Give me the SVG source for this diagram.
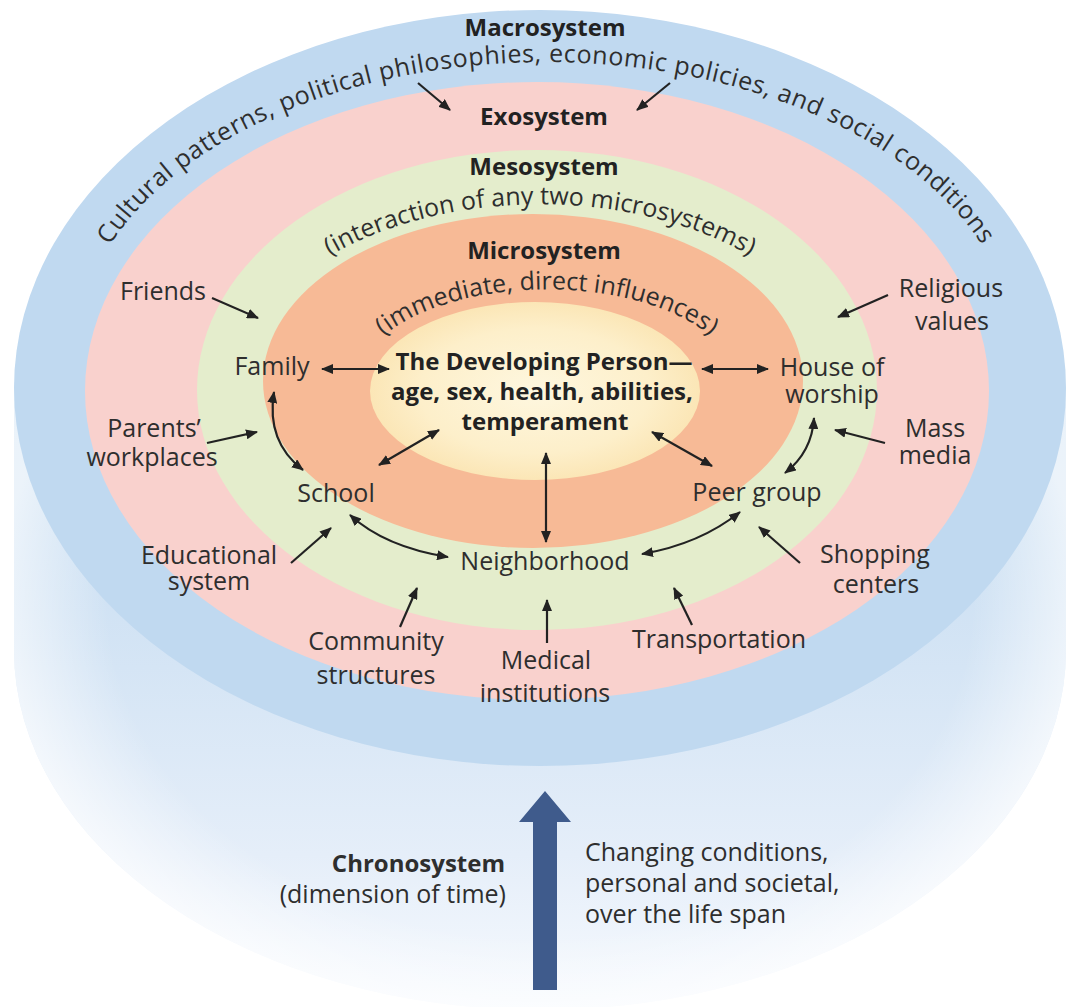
<svg xmlns="http://www.w3.org/2000/svg" width="1069" height="1007" viewBox="0 0 1069 1007">
  <defs>
    <style>
      .lbl { font-family: "Open Sans", "DejaVu Sans", sans-serif; font-size: 25px; fill: #2e2e2e; }
      .mid { text-anchor: middle; }
      .end { text-anchor: end; }
      .hd { font-family: "Open Sans", "DejaVu Sans", sans-serif; font-size: 24px; font-weight: bold; fill: #222; text-anchor: middle; }
      .arc { font-family: "Open Sans", "DejaVu Sans", sans-serif; font-size: 24px; fill: #2e2e2e; }
      .con { fill: none; stroke: #222; stroke-width: 2.2; }
      .one { marker-end: url(#head); }
      .two { marker-start: url(#head); marker-end: url(#head); }
    </style>
    <marker id="head" viewBox="0 0 12 10" refX="11" refY="5" markerWidth="12" markerHeight="10" markerUnits="userSpaceOnUse" orient="auto-start-reverse">
      <path d="M0,0 L12,5 L0,10 Z" fill="#222"/>
    </marker>
    <linearGradient id="bodyFill" x1="0" y1="388" x2="0" y2="1010" gradientUnits="userSpaceOnUse">
      <stop offset="0" stop-color="#c2daf0"/>
      <stop offset="0.45" stop-color="#d5e5f5"/>
      <stop offset="0.75" stop-color="#e5eef9"/>
      <stop offset="1" stop-color="#f7fafe"/>
    </linearGradient>
    <radialGradient id="rim" cx="540" cy="600" r="540" gradientUnits="userSpaceOnUse" gradientTransform="translate(540 600) scale(1 0.78) translate(-540 -600)">
      <stop offset="0" stop-color="#fff" stop-opacity="0"/>
      <stop offset="0.8" stop-color="#fff" stop-opacity="0"/>
      <stop offset="1" stop-color="#fff" stop-opacity="0.65"/>
    </radialGradient>
    <radialGradient id="core" cx="535" cy="391" r="165" gradientUnits="userSpaceOnUse" gradientTransform="translate(535 391) scale(1 0.54) translate(-535 -391)">
      <stop offset="0" stop-color="#fef7df"/>
      <stop offset="0.7" stop-color="#fdefca"/>
      <stop offset="1" stop-color="#fbe6b6"/>
    </radialGradient>
    <path id="macroArc" d="M100,262 A470 292 0 0 1 992,262"/>
    <path id="mesoArc" d="M320,262 A300 180 0 0 1 760,262"/>
    <path id="microArc" d="M378,341 A190 95 0 0 1 716,341"/>
  </defs>

  <rect width="1069" height="1007" fill="#ffffff"/>

  <!-- cylinder body (time axis) -->
  <g id="cylinder">
    <path d="M14,388 L14,650 A526 360 0 0 0 1066,650 L1066,388 Z" fill="url(#bodyFill)"/>
    <path d="M14,388 L14,650 A526 360 0 0 0 1066,650 L1066,388 Z" fill="url(#rim)"/>
  </g>

  <!-- nested system rings on the top face -->
  <g id="macrosystem">
    <ellipse cx="540" cy="388" rx="526" ry="378" fill="#c0d9f0"/>
  </g>
  <g id="exosystem">
    <ellipse cx="537" cy="391" rx="452" ry="309" fill="#f9d1cd"/>
  </g>
  <g id="mesosystem">
    <ellipse cx="537" cy="390" rx="340" ry="240" fill="#e4edcc"/>
  </g>
  <g id="microsystem">
    <ellipse cx="533" cy="381" rx="270" ry="167" fill="#f7ba96"/>
  </g>
  <g id="person">
    <ellipse cx="535" cy="391" rx="165" ry="89" fill="url(#core)"/>
  </g>

  <!-- ring titles -->
  <g id="ring-labels">
    <text class="hd" x="545" y="36">Macrosystem</text>
    <text class="arc" style="font-size:25px;letter-spacing:0.6px"><textPath href="#macroArc" startOffset="50%" text-anchor="middle">Cultural patterns, political philosophies, economic policies, and social conditions</textPath></text>
    <text class="hd" x="544" y="125">Exosystem</text>
    <text class="hd" x="544" y="175">Mesosystem</text>
    <text class="arc" style="font-size:25px"><textPath href="#mesoArc" startOffset="50%" text-anchor="middle">(interaction of any two microsystems)</textPath></text>
    <text class="hd" x="544" y="259">Microsystem</text>
    <text class="arc" style="font-size:25px"><textPath href="#microArc" startOffset="50%" text-anchor="middle">(immediate, direct influences)</textPath></text>
  </g>

  <g id="developing-person">
    <text class="hd" x="544" y="370">The Developing Person—</text>
    <text class="hd" x="542" y="400">age, sex, health, abilities,</text>
    <text class="hd" x="545" y="430">temperament</text>
  </g>

  <!-- microsystem settings -->
  <g id="family"><text class="lbl mid" x="272" y="375">Family</text></g>
  <g id="school"><text class="lbl mid" x="336" y="502">School</text></g>
  <g id="neighborhood"><text class="lbl mid" x="545" y="570">Neighborhood</text></g>
  <g id="peer-group"><text class="lbl mid" x="757" y="501">Peer group</text></g>
  <g id="house-of-worship">
    <text class="lbl mid" x="832" y="376">House of</text>
    <text class="lbl mid" x="832" y="403">worship</text>
  </g>

  <!-- exosystem settings -->
  <g id="friends"><text class="lbl mid" x="163" y="300">Friends</text></g>
  <g id="parents-workplaces">
    <text class="lbl mid" x="154" y="437">Parents’</text>
    <text class="lbl mid" x="152" y="466">workplaces</text>
  </g>
  <g id="educational-system">
    <text class="lbl mid" x="209" y="564">Educational</text>
    <text class="lbl mid" x="209" y="590">system</text>
  </g>
  <g id="community-structures">
    <text class="lbl mid" x="376" y="650">Community</text>
    <text class="lbl mid" x="376" y="684">structures</text>
  </g>
  <g id="medical-institutions">
    <text class="lbl mid" x="546" y="669">Medical</text>
    <text class="lbl mid" x="545" y="702">institutions</text>
  </g>
  <g id="transportation"><text class="lbl mid" x="719" y="648">Transportation</text></g>
  <g id="shopping-centers">
    <text class="lbl mid" x="875" y="563">Shopping</text>
    <text class="lbl mid" x="876" y="593">centers</text>
  </g>
  <g id="mass-media">
    <text class="lbl mid" x="935" y="437">Mass</text>
    <text class="lbl mid" x="935" y="464">media</text>
  </g>
  <g id="religious-values">
    <text class="lbl mid" x="951" y="297">Religious</text>
    <text class="lbl mid" x="952" y="330">values</text>
  </g>

  <!-- chronosystem -->
  <g id="chronosystem">
    <path d="M533,990 L533,822 L519,822 L545,791 L571,822 L557,822 L557,990 Z" fill="#3f5b8c"/>
    <text class="lbl end" x="505" y="872" style="font-weight:bold;font-size:24px">Chronosystem</text>
    <text class="lbl end" x="506" y="903">(dimension of time)</text>
    <text class="lbl" x="585" y="861">Changing conditions,</text>
    <text class="lbl" x="585" y="892">personal and societal,</text>
    <text class="lbl" x="585" y="923">over the life span</text>
  </g>

  <!-- connectors -->
  <g id="connectors">
    <path class="con two" d="M322,369 L389,369"/>
    <path class="con two" d="M702,369 L768,369"/>
    <path class="con two" d="M379,465 L439,430"/>
    <path class="con two" d="M652,432 L712,466"/>
    <path class="con two" d="M546,453 L546,542"/>
    <path class="con two" d="M274,392 Q266,442 303,470"/>
    <path class="con two" d="M350,515 Q385,547 448,557"/>
    <path class="con two" d="M740,512 Q700,544 642,554"/>
    <path class="con two" d="M814,418 Q812,452 785,473"/>

    <path class="con one" d="M212,298 L258,318"/>
    <path class="con one" d="M207,443 L257,432"/>
    <path class="con one" d="M291,563 L331,528"/>
    <path class="con one" d="M400,627 L417,588"/>
    <path class="con one" d="M547,643 L547,600"/>
    <path class="con one" d="M692,625 L674,588"/>
    <path class="con one" d="M800,563 L759,527"/>
    <path class="con one" d="M885,443 L835,430"/>
    <path class="con one" d="M888,295 L838,317"/>
    <path class="con one" d="M418,83 L450,110"/>
    <path class="con one" d="M670,83 L637,110"/>
  </g>
</svg>
